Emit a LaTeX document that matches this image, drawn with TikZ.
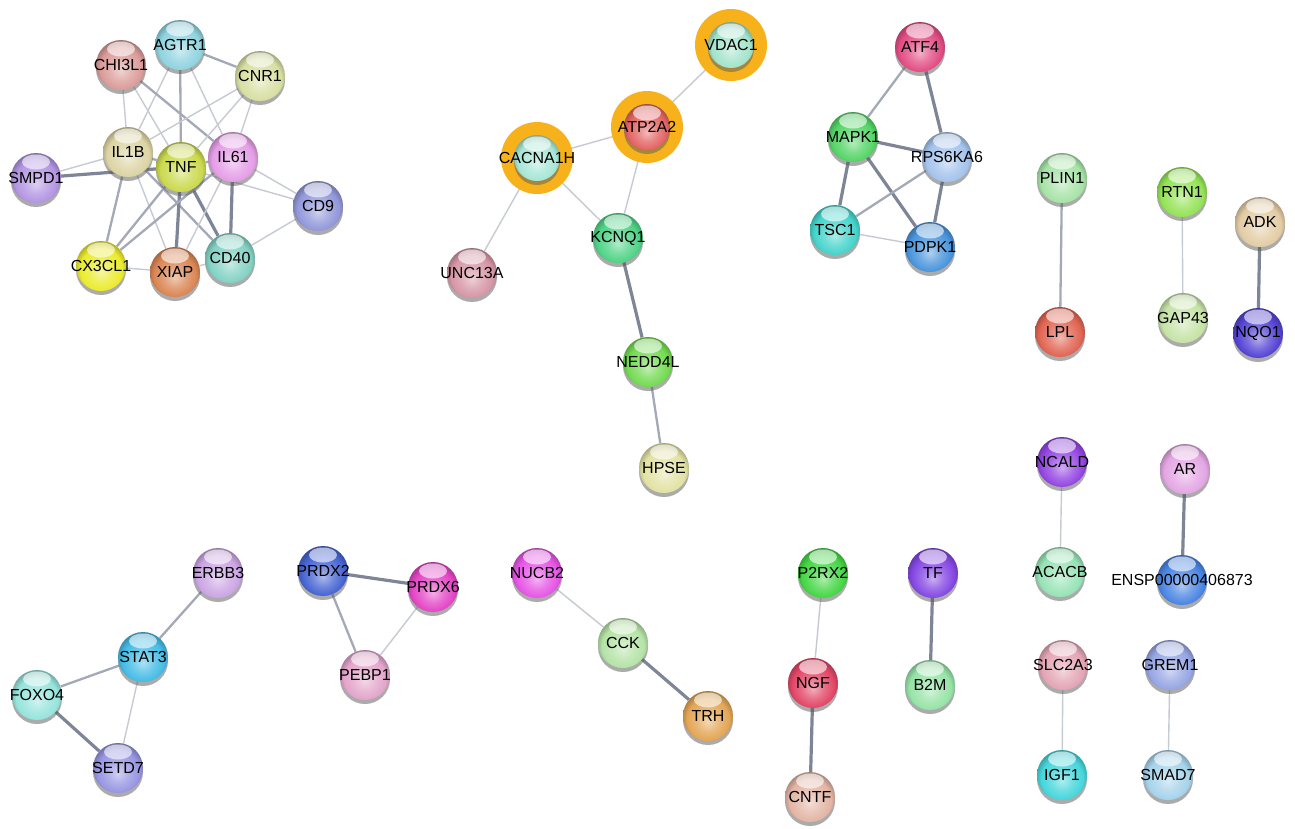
\documentclass[tikz,border=0pt]{standalone}
\usepackage{fontspec}
\newfontfamily\lblfont{Liberation Sans}
\usetikzlibrary{shadows}

\pgfdeclarelayer{canvas}
\pgfdeclarelayer{links}
\pgfsetlayers{canvas,links,main}

% glossy sphere shading, lit from below with a darker upper rim
\colorlet{sphcol}{gray}
\pgfdeclareradialshading[sphcol]{glossy}{\pgfqpoint{0bp}{-6bp}}{%
  color(0bp)=(sphcol!45!white);
  color(11bp)=(sphcol!78!white);
  color(21bp)=(sphcol);
  color(28bp)=(sphcol!72!black);
  color(31bp)=(sphcol!65!black);
  color(50bp)=(sphcol!60!black)}

\definecolor{ringor}{HTML}{F7B21B}
\definecolor{edgelight}{HTML}{C6CAD2}
\definecolor{edgemid}{HTML}{A3A9B6}
\definecolor{edgedark}{HTML}{7D8597}

\definecolor{cAGTR1}{HTML}{8FD3DF}
\definecolor{cCHI3L1}{HTML}{DB9C99}
\definecolor{cCNR1}{HTML}{D8DFA2}
\definecolor{cIL1B}{HTML}{DCD4A4}
\definecolor{cTNF}{HTML}{CBD94E}
\definecolor{cIL61}{HTML}{E49DE6}
\definecolor{cSMPD1}{HTML}{B395E3}
\definecolor{cCD9}{HTML}{9298DA}
\definecolor{cCX3CL1}{HTML}{EBEB2E}
\definecolor{cXIAP}{HTML}{DB8654}
\definecolor{cCD40}{HTML}{83D2C4}
\definecolor{cVDAC1}{HTML}{A2E3CB}
\definecolor{cATP2A2}{HTML}{E46464}
\definecolor{cCACNA1H}{HTML}{A6E6D6}
\definecolor{cKCNQ1}{HTML}{4FD386}
\definecolor{cUNC13A}{HTML}{D696A6}
\definecolor{cNEDD4L}{HTML}{73DA52}
\definecolor{cHPSE}{HTML}{E2E2A4}
\definecolor{cATF4}{HTML}{E24D84}
\definecolor{cMAPK1}{HTML}{54D466}
\definecolor{cRPS6KA6}{HTML}{A4C3EC}
\definecolor{cTSC1}{HTML}{45D4CB}
\definecolor{cPDPK1}{HTML}{4A95DC}
\definecolor{cPLIN1}{HTML}{A6E3A6}
\definecolor{cLPL}{HTML}{E16553}
\definecolor{cRTN1}{HTML}{94E356}
\definecolor{cGAP43}{HTML}{C6E3A6}
\definecolor{cADK}{HTML}{E3CCA4}
\definecolor{cNQO1}{HTML}{5544D5}
\definecolor{cERBB3}{HTML}{CBA5E3}
\definecolor{cSTAT3}{HTML}{45BCE5}
\definecolor{cFOXO4}{HTML}{96E4DC}
\definecolor{cSETD7}{HTML}{9896E3}
\definecolor{cPRDX2}{HTML}{4765D3}
\definecolor{cPRDX6}{HTML}{E446C6}
\definecolor{cPEBP1}{HTML}{E3A5CB}
\definecolor{cNUCB2}{HTML}{E655E6}
\definecolor{cCCK}{HTML}{B5E3A6}
\definecolor{cTRH}{HTML}{E3A655}
\definecolor{cP2RX2}{HTML}{45D645}
\definecolor{cTF}{HTML}{8548E3}
\definecolor{cNGF}{HTML}{E24767}
\definecolor{cB2M}{HTML}{96E3A6}
\definecolor{cCNTF}{HTML}{E3B5A5}
\definecolor{cNCALD}{HTML}{9446E3}
\definecolor{cAR}{HTML}{E3A6E3}
\definecolor{cACACB}{HTML}{96E3B5}
\definecolor{cENSP}{HTML}{4A85E3}
\definecolor{cSLC2A3}{HTML}{E3A5B5}
\definecolor{cGREM1}{HTML}{96A6E3}
\definecolor{cIGF1}{HTML}{46D6DB}
\definecolor{cSMAD7}{HTML}{A6D3EA}

\tikzset{
  sph/.style={circle, inner sep=0pt, minimum size=50pt,
    /utils/exec={\colorlet{sphcol}{#1}}, shading=glossy,
    drop shadow={shadow xshift=0pt, shadow yshift=-4pt, fill=black!65, opacity=0.5},
    path picture={\fill[white, opacity=0.6]
      ([yshift=-9pt]path picture bounding box.north) ellipse (14pt and 7.5pt);}},
  ringed/.style={minimum size=46pt},
  halo/.style={circle, fill=ringor, minimum size=72pt, inner sep=0pt},
  lbl/.style={font=\lblfont\fontsize{16}{18}\selectfont, text=black, inner sep=0pt},
  e1/.style={line width=1.4pt, draw=edgelight},
  e2/.style={line width=2.3pt, draw=edgemid},
  e3/.style={line width=3.2pt, draw=edgedark},
}

% protein node: name, position, label, colour
\newcommand\gene[4]{%
  \node[sph=#4] (#1) at (#2) {};
  \node[lbl] (#1-txt) at (#1) {#3};}
% protein node with an orange highlight ring
\newcommand\hgene[4]{%
  \node[halo] (#1-halo) at (#2) {};
  \node[sph=#4, ringed] (#1) at (#2) {};
  \node[lbl] (#1-txt) at (#1) {#3};}

\begin{document}
\begin{tikzpicture}[x=1pt, y=-1pt]
\begin{pgfonlayer}{canvas}
  \fill[white] (0,0) rectangle (1295,828);
\end{pgfonlayer}
\useasboundingbox (0,0) rectangle (1295,828);

% inflammation cluster
\gene{AGTR1}{180,45}{AGTR1}{cAGTR1}
\gene{CHI3L1}{121,65}{CHI3L1}{cCHI3L1}
\gene{CNR1}{260,76}{CNR1}{cCNR1}
\gene{IL1B}{128,152}{IL1B}{cIL1B}
\gene{TNF}{181,167}{TNF}{cTNF}
\gene{IL61}{233,157}{IL61}{cIL61}
\gene{SMPD1}{36,178}{SMPD1}{cSMPD1}
\gene{CD9}{318,206}{CD9}{cCD9}
\gene{CX3CL1}{101,266}{CX3CL1}{cCX3CL1}
\gene{XIAP}{175,272}{XIAP}{cXIAP}
\gene{CD40}{230,258}{CD40}{cCD40}

% channel cluster
\hgene{VDAC1}{731,45}{VDAC1}{cVDAC1}
\hgene{ATP2A2}{647,127}{ATP2A2}{cATP2A2}
\hgene{CACNA1H}{537,158}{CACNA1H}{cCACNA1H}
\gene{KCNQ1}{618,238}{KCNQ1}{cKCNQ1}
\gene{UNC13A}{472,273}{UNC13A}{cUNC13A}
\gene{NEDD4L}{648,362}{NEDD4L}{cNEDD4L}
\gene{HPSE}{664,468}{HPSE}{cHPSE}

% kinase cluster
\gene{ATF4}{920,47}{ATF4}{cATF4}
\gene{MAPK1}{853,137}{MAPK1}{cMAPK1}
\gene{RPS6KA6}{947,157}{RPS6KA6}{cRPS6KA6}
\gene{TSC1}{835,230}{TSC1}{cTSC1}
\gene{PDPK1}{930,247}{PDPK1}{cPDPK1}

% pairs, upper right
\gene{PLIN1}{1062,178}{PLIN1}{cPLIN1}
\gene{LPL}{1060,332}{LPL}{cLPL}
\gene{RTN1}{1182,192}{RTN1}{cRTN1}
\gene{GAP43}{1183,318}{GAP43}{cGAP43}
\gene{ADK}{1260,222}{ADK}{cADK}
\gene{NQO1}{1258,333}{NQO1}{cNQO1}

% lower left groups
\gene{ERBB3}{218,573}{ERBB3}{cERBB3}
\gene{STAT3}{143,657}{STAT3}{cSTAT3}
\gene{FOXO4}{37,695}{FOXO4}{cFOXO4}
\gene{SETD7}{118,768}{SETD7}{cSETD7}
\gene{PRDX2}{323,571}{PRDX2}{cPRDX2}
\gene{PRDX6}{433,587}{PRDX6}{cPRDX6}
\gene{PEBP1}{365,675}{PEBP1}{cPEBP1}
\gene{NUCB2}{537,573}{NUCB2}{cNUCB2}
\gene{CCK}{623,643}{CCK}{cCCK}
\gene{TRH}{708,716}{TRH}{cTRH}

% lower middle
\gene{P2RX2}{823,573}{P2RX2}{cP2RX2}
\gene{TF}{933,573}{TF}{cTF}
\gene{NGF}{813,683}{NGF}{cNGF}
\gene{B2M}{930,685}{B2M}{cB2M}
\gene{CNTF}{810,797}{CNTF}{cCNTF}

% lower right pairs
\gene{NCALD}{1062,462}{NCALD}{cNCALD}
\gene{AR}{1185,469}{AR}{cAR}
\gene{ACACB}{1060,572}{ACACB}{cACACB}
\gene{ENSP}{1182,580}{ENSP00000406873}{cENSP}
\gene{SLC2A3}{1063,665}{SLC2A3}{cSLC2A3}
\gene{GREM1}{1170,665}{GREM1}{cGREM1}
\gene{IGF1}{1062,775}{IGF1}{cIGF1}
\gene{SMAD7}{1168,775}{SMAD7}{cSMAD7}

\begin{pgfonlayer}{links}
  % inflammation cluster
  \draw[e2] (AGTR1) -- (CNR1);
  \draw[e1] (AGTR1) -- (IL1B);
  \draw[e2] (AGTR1) -- (TNF);
  \draw[e1] (AGTR1) -- (IL61);
  \draw[e1] (CHI3L1) -- (IL1B);
  \draw[e1] (CHI3L1) -- (TNF);
  \draw[e2] (CHI3L1) -- (IL61);
  \draw[e1] (CNR1) -- (IL1B);
  \draw[e1] (CNR1) -- (TNF);
  \draw[e1] (CNR1) -- (IL61);
  \draw[e1] (SMPD1) -- (IL1B);
  \draw[e3] (SMPD1) -- (TNF);
  \draw[e2] (IL1B) -- (TNF);
  \draw[e2] (IL1B) -- (CX3CL1);
  \draw[e1] (IL1B) -- (XIAP);
  \draw[e2] (IL1B) -- (CD40);
  \draw[e2] (TNF) -- (IL61);
  \draw[e2] (TNF) -- (CX3CL1);
  \draw[e3] (TNF) -- (XIAP);
  \draw[e3] (TNF) -- (CD40);
  \draw[e1] (TNF) -- (CD9);
  \draw[e1] (IL61) -- (CD9);
  \draw[e3] (IL61) -- (CD40);
  \draw[e2] (IL61) -- (CX3CL1);
  \draw[e1] (IL61) -- (XIAP);
  \draw[e1] (CX3CL1) -- (XIAP);
  \draw[e1] (XIAP) -- (CD40);
  \draw[e1] (CD40) -- (CD9);
  % channel cluster
  \draw[e1] (VDAC1) -- (ATP2A2);
  \draw[e1] (ATP2A2) -- (CACNA1H);
  \draw[e1] (ATP2A2) -- (KCNQ1);
  \draw[e1] (CACNA1H) -- (KCNQ1);
  \draw[e1] (CACNA1H) -- (UNC13A);
  \draw[e3] (KCNQ1) -- (NEDD4L);
  \draw[e2] (NEDD4L) -- (HPSE);
  % kinase cluster
  \draw[e2] (ATF4) -- (MAPK1);
  \draw[e3] (ATF4) -- (RPS6KA6);
  \draw[e3] (MAPK1) -- (RPS6KA6);
  \draw[e3] (MAPK1) -- (TSC1);
  \draw[e3] (MAPK1) -- (PDPK1);
  \draw[e2] (RPS6KA6) -- (TSC1);
  \draw[e3] (RPS6KA6) -- (PDPK1);
  \draw[e1] (TSC1) -- (PDPK1);
  % pairs and small groups
  \draw[e2] (PLIN1) -- (LPL);
  \draw[e1] (RTN1) -- (GAP43);
  \draw[e3] (ADK) -- (NQO1);
  \draw[e2] (ERBB3) -- (STAT3);
  \draw[e2] (STAT3) -- (FOXO4);
  \draw[e1] (STAT3) -- (SETD7);
  \draw[e3] (FOXO4) -- (SETD7);
  \draw[e3] (PRDX2) -- (PRDX6);
  \draw[e2] (PRDX2) -- (PEBP1);
  \draw[e1] (PRDX6) -- (PEBP1);
  \draw[e1] (NUCB2) -- (CCK);
  \draw[e3] (CCK) -- (TRH);
  \draw[e1] (P2RX2) -- (NGF);
  \draw[e3] (TF) -- (B2M);
  \draw[e3] (NGF) -- (CNTF);
  \draw[e1] (NCALD) -- (ACACB);
  \draw[e3] (AR) -- (ENSP);
  \draw[e1] (SLC2A3) -- (IGF1);
  \draw[e1] (GREM1) -- (SMAD7);
\end{pgfonlayer}
\end{tikzpicture}
\end{document}
